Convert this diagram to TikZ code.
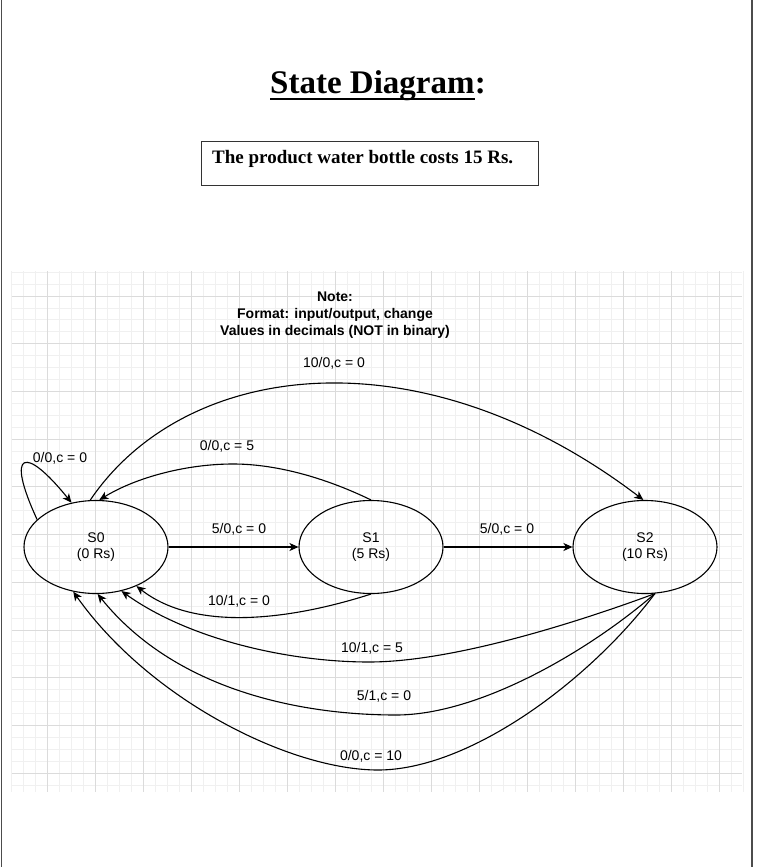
\documentclass[tikz,border=0pt]{standalone}
\usepackage{fontspec}
\setmainfont{Liberation Serif}
\newfontfamily\arialf{Liberation Sans}
\usetikzlibrary{shapes.geometric, arrows.meta}

\begin{document}
\begin{tikzpicture}[x=1pt, y=-1pt,
  state/.style={ellipse, draw, line width=1.1pt, minimum width=144pt, minimum height=93pt, inner sep=0pt, align=center, font=\arialf\fontsize{14}{16}\selectfont},
  lbl/.style={inner sep=0pt, font=\arialf\fontsize{14}{16}\selectfont},
  notebox/.style={inner sep=0pt, font=\arialf\bfseries\fontsize{14}{17}\selectfont, align=center},
  edge/.style={line width=1.1pt, -{Stealth[length=9pt,width=8pt,inset=2.5pt]}},
  minorgrid/.style={draw=black!6, line width=0.8pt},
  majorgrid/.style={draw=black!14, line width=0.8pt},
]
\useasboundingbox (0,0) rectangle (757,867);
\fill[white] (0,0) rectangle (757,867);

% grid
\foreach \k in {0,...,61} {
  \pgfmathsetmacro\xx{47.5+(\k-3)*11.99}
  \draw[minorgrid] (\xx,271) -- (\xx,792);
}
\foreach \k in {0,...,43} {
  \pgfmathsetmacro\yy{296+(\k-2)*11.925}
  \draw[minorgrid] (12,\yy) -- (742,\yy);
}
\foreach \k in {3,7,...,59} {
  \pgfmathsetmacro\xx{47.5+(\k-3)*11.99}
  \draw[majorgrid] (\xx,271) -- (\xx,792);
}
\foreach \k in {2,6,...,42} {
  \pgfmathsetmacro\yy{296+(\k-2)*11.925}
  \draw[majorgrid] (12,\yy) -- (742,\yy);
}

% page borders
\draw[line width=1.5pt, draw=black!70] (1.5,0) -- (1.5,867);
\draw[line width=1.5pt, draw=black!70] (752,0) -- (752,867);

% title
\node[anchor=base west, inner sep=0pt, font=\bfseries\fontsize{33}{40}\selectfont] (title) at (270,93) {State Diagram};
\node[anchor=base west, inner sep=0pt, font=\bfseries\fontsize{33}{40}\selectfont] (colon) at (title.base east) {:};
\draw[line width=2pt] ([yshift=-6pt]title.base west) -- ([yshift=-6pt]title.base east);

% box
\node[draw=black!80, line width=1pt, anchor=north west, minimum width=337pt, minimum height=44pt, inner sep=0pt] (box) at (201,141) {};
\node[anchor=base west, inner sep=0pt, font=\bfseries\fontsize{19}{23}\selectfont] (boxtext) at (212,163) {The product water bottle costs 15 Rs.};

% note
\node[notebox] (note) at (335,315) {Note:\\Format: input/output, change\\Values in decimals (NOT in binary)};

% states
\node[state] (S0) at (96,547) {S0\\(0 Rs)};
\node[state] (S1) at (371,547) {S1\\(5 Rs)};
\node[state] (S2) at (645,547) {S2\\(10 Rs)};

% edges
\draw[edge] (S0.east) -- (S1.west);
\draw[edge] (S1.east) -- (S2.west);
\draw[edge] (S0.155) .. controls (5,450) and (25,445) .. (S0.119);
\draw[edge] (S0.97) .. controls (185,360) and (420,330) .. (S2.92);
\draw[edge] (S1.north) .. controls (330,480) and (280,464) .. (233,464) .. controls (185,464) and (135,478) .. (S0.86);
\draw[edge] (S1.south) .. controls (290,620) and (195,632) .. (S0.-44);
\draw[edge] (S2.-78) .. controls (570,625) and (450,662) .. (369,662) .. controls (290,662) and (190,640) .. (S0.-60);
\draw[edge] (S2.-78) .. controls (590,650) and (480,715) .. (396,715) .. controls (300,715) and (175,690) .. (S0.-88);
\draw[edge] (S2.-78) .. controls (590,680) and (470,770) .. (378,770) .. controls (290,770) and (150,700) .. (S0.-117);

% labels
\node[lbl] (l1) at (60,458) {0/0,c = 0};
\node[lbl] (l2) at (334,363) {10/0,c = 0};
\node[lbl] (l3) at (227,446) {0/0,c = 5};
\node[lbl] (l4) at (239,529) {5/0,c = 0};
\node[lbl] (l5) at (507,529) {5/0,c = 0};
\node[lbl] (l6) at (239,601) {10/1,c = 0};
\node[lbl] (l7) at (372,648) {10/1,c = 5};
\node[lbl] (l8) at (384,696) {5/1,c = 0};
\node[lbl] (l9) at (371,756) {0/0,c = 10};
\end{tikzpicture}
\end{document}
